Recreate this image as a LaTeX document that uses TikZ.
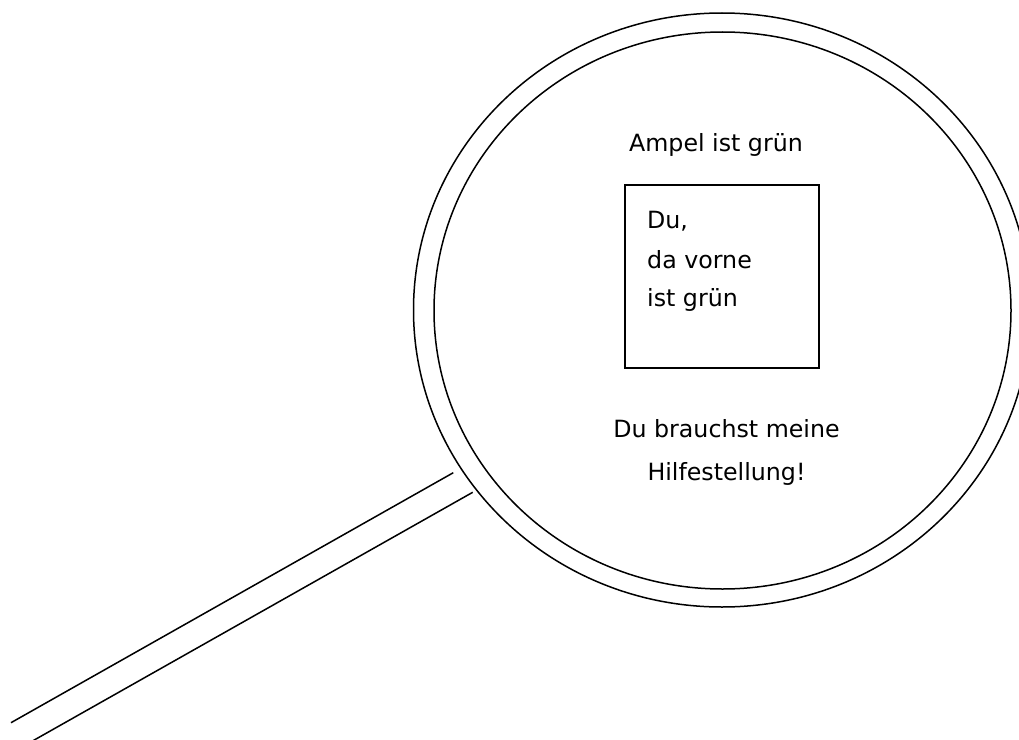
\documentclass[tikz,border=0pt]{standalone}
\usepackage{fontspec}
\setmainfont{DejaVu Sans}
\begin{document}
\begin{tikzpicture}[x=1bp,y=-1bp,
  outline/.style={line width=1.5bp, black},
  lbl/.style={anchor=base, inner sep=0pt, font=\fontsize{23.8}{28}\selectfont},
  lbll/.style={lbl, anchor=base west}]
\useasboundingbox (0,0) rectangle (1019,740);
% lens rims
\draw[outline] (722,310) ellipse [x radius=308.5, y radius=297];
\draw[outline] (722.5,310.5) ellipse [x radius=288.5, y radius=278.5];
% handle
\coordinate (h1s) at (11,722.7);
\coordinate (h1e) at (453.3,472.7);
\coordinate (h2s) at (24,745.8);
\coordinate (h2e) at (472.7,492.3);
\draw[outline] (h1s) -- (h1e);
\draw[outline] (h2s) -- (h2e);
% texts
\node[lbl] (top) at (716,151.7) {Ampel ist grün};
\node[draw, line width=1.5bp, minimum width=194bp, minimum height=183bp, inner sep=0pt] (box) at (722,276.5) {};
\node[lbll] (l1) at (647,228) {Du,};
\node[lbll] (l2) at (647,268) {da vorne};
\node[lbll] (l3) at (647,306) {ist grün};
\node[lbl] (b1) at (726.5,437.7) {Du brauchst meine};
\node[lbl] (b2) at (726.5,480) {Hilfestellung!};
\end{tikzpicture}
\end{document}
